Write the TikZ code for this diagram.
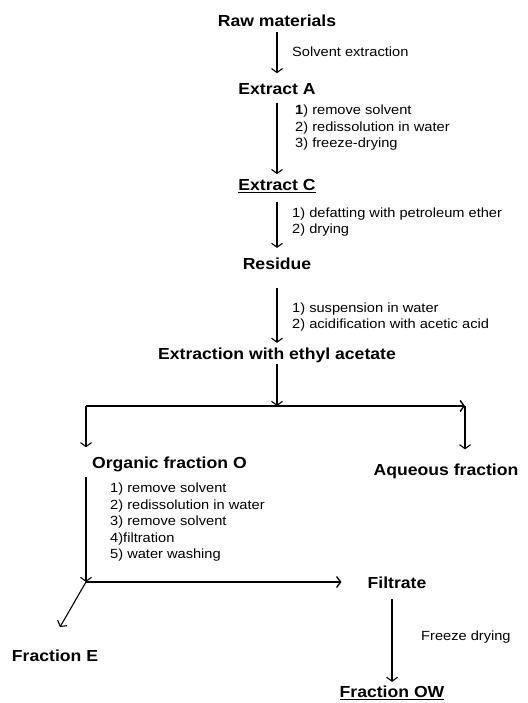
\documentclass[tikz,border=0pt]{standalone}
\usepackage{fontspec}
\setmainfont{Liberation Sans}[FakeStretch=1.1]
\usepackage{tikz}
\usetikzlibrary{arrows.meta}
\tikzset{>={Straight Barb[length=4pt,width=11pt]}}
\tikzset{
	stage/.style={font=\bfseries\fontsize{16}{19}\selectfont, inner sep=0pt},
	note/.style={font=\fontsize{13.3}{16.5}\selectfont, align=left, anchor=west, inner sep=0pt},
	flow/.style={->, line width=1.1pt},
	rail/.style={line width=1.4pt}
}
\begin{document}
\begin{tikzpicture}[x=1pt, y=-1pt]
	\useasboundingbox (0,0) rectangle (527,703);

	% main column
	\node[stage] (raw) at (277,21) {Raw materials};
	\node[stage] (extA) at (277,89) {Extract A};
	\node[stage] (extC) at (277,186) {\underline{Extract C}};
	\node[stage] (resid) at (277,264) {Residue};
	\node[stage] (ethyl) at (277,355.5) {Extraction with ethyl acetate};

	\node[note] (solv) at (292,52) {Solvent extraction};
	\node[note] (stepsA) at (295,128) {\textbf{1}) remove solvent\\2) redissolution in water\\3) freeze-drying};
	\node[note] (stepsC) at (292,222) {1) defatting with petroleum ether\\2) drying};
	\node[note] (stepsR) at (292,317) {1) suspension in water\\2) acidification with acetic acid};

	\draw[flow, shorten <=5pt, shorten >=10pt] (raw) -- (extA);
	\draw[flow, shorten <=8pt, shorten >=5pt] (extA) -- (extC);
	\draw[flow, shorten <=9pt, shorten >=10pt] (extC) -- (resid);
	\draw[flow, shorten <=18pt, shorten >=5pt] (resid) -- (ethyl);

	% split into two fractions
	\coordinate (split) at (277,406);
	\coordinate (lc) at (86,406);
	\coordinate (rc) at (465,406);
	\node[stage, anchor=west] (orgO) at (92,464) {Organic fraction O};
	\node[stage] (aqu) at (446,471) {Aqueous fraction};

	\draw[flow, shorten <=1pt] (ethyl) -- (split);
	\draw[rail] (split) -- (lc);
	\draw[flow, rail] (split) -- (rc);
	\draw[flow, shorten >=9pt] (lc) -- (lc |- orgO.north);
	\draw[flow, shorten >=14pt] (rc) -- (rc |- aqu.north);

	% organic fraction
	\node[note] (stepsO) at (110,522.5) {1) remove solvent\\2) redissolution in water\\3) remove solvent\\4)filtration\\5) water washing};
	\node[stage] (filt) at (397,583) {Filtrate};
	\node[stage] (fracE) at (55,656) {Fraction E};
	\coordinate (oc) at (86,582);
	\coordinate (eTip) at (60,627);

	\draw[flow, shorten <=5.5pt] (orgO.south -| lc) -- (oc);
	\draw[flow, rail, shorten >=26pt] (oc) -- (oc -| filt.west);
	\draw[flow] (oc) -- (eTip);

	% filtrate
	\node[stage] (fracOW) at (392,693) {\underline{Fraction OW}};
	\node[note] (freeze) at (421,637) {Freeze drying};
	\draw[flow, shorten <=10pt, shorten >=4pt] (filt.south -| fracOW) -- (fracOW);
\end{tikzpicture}
\end{document}
